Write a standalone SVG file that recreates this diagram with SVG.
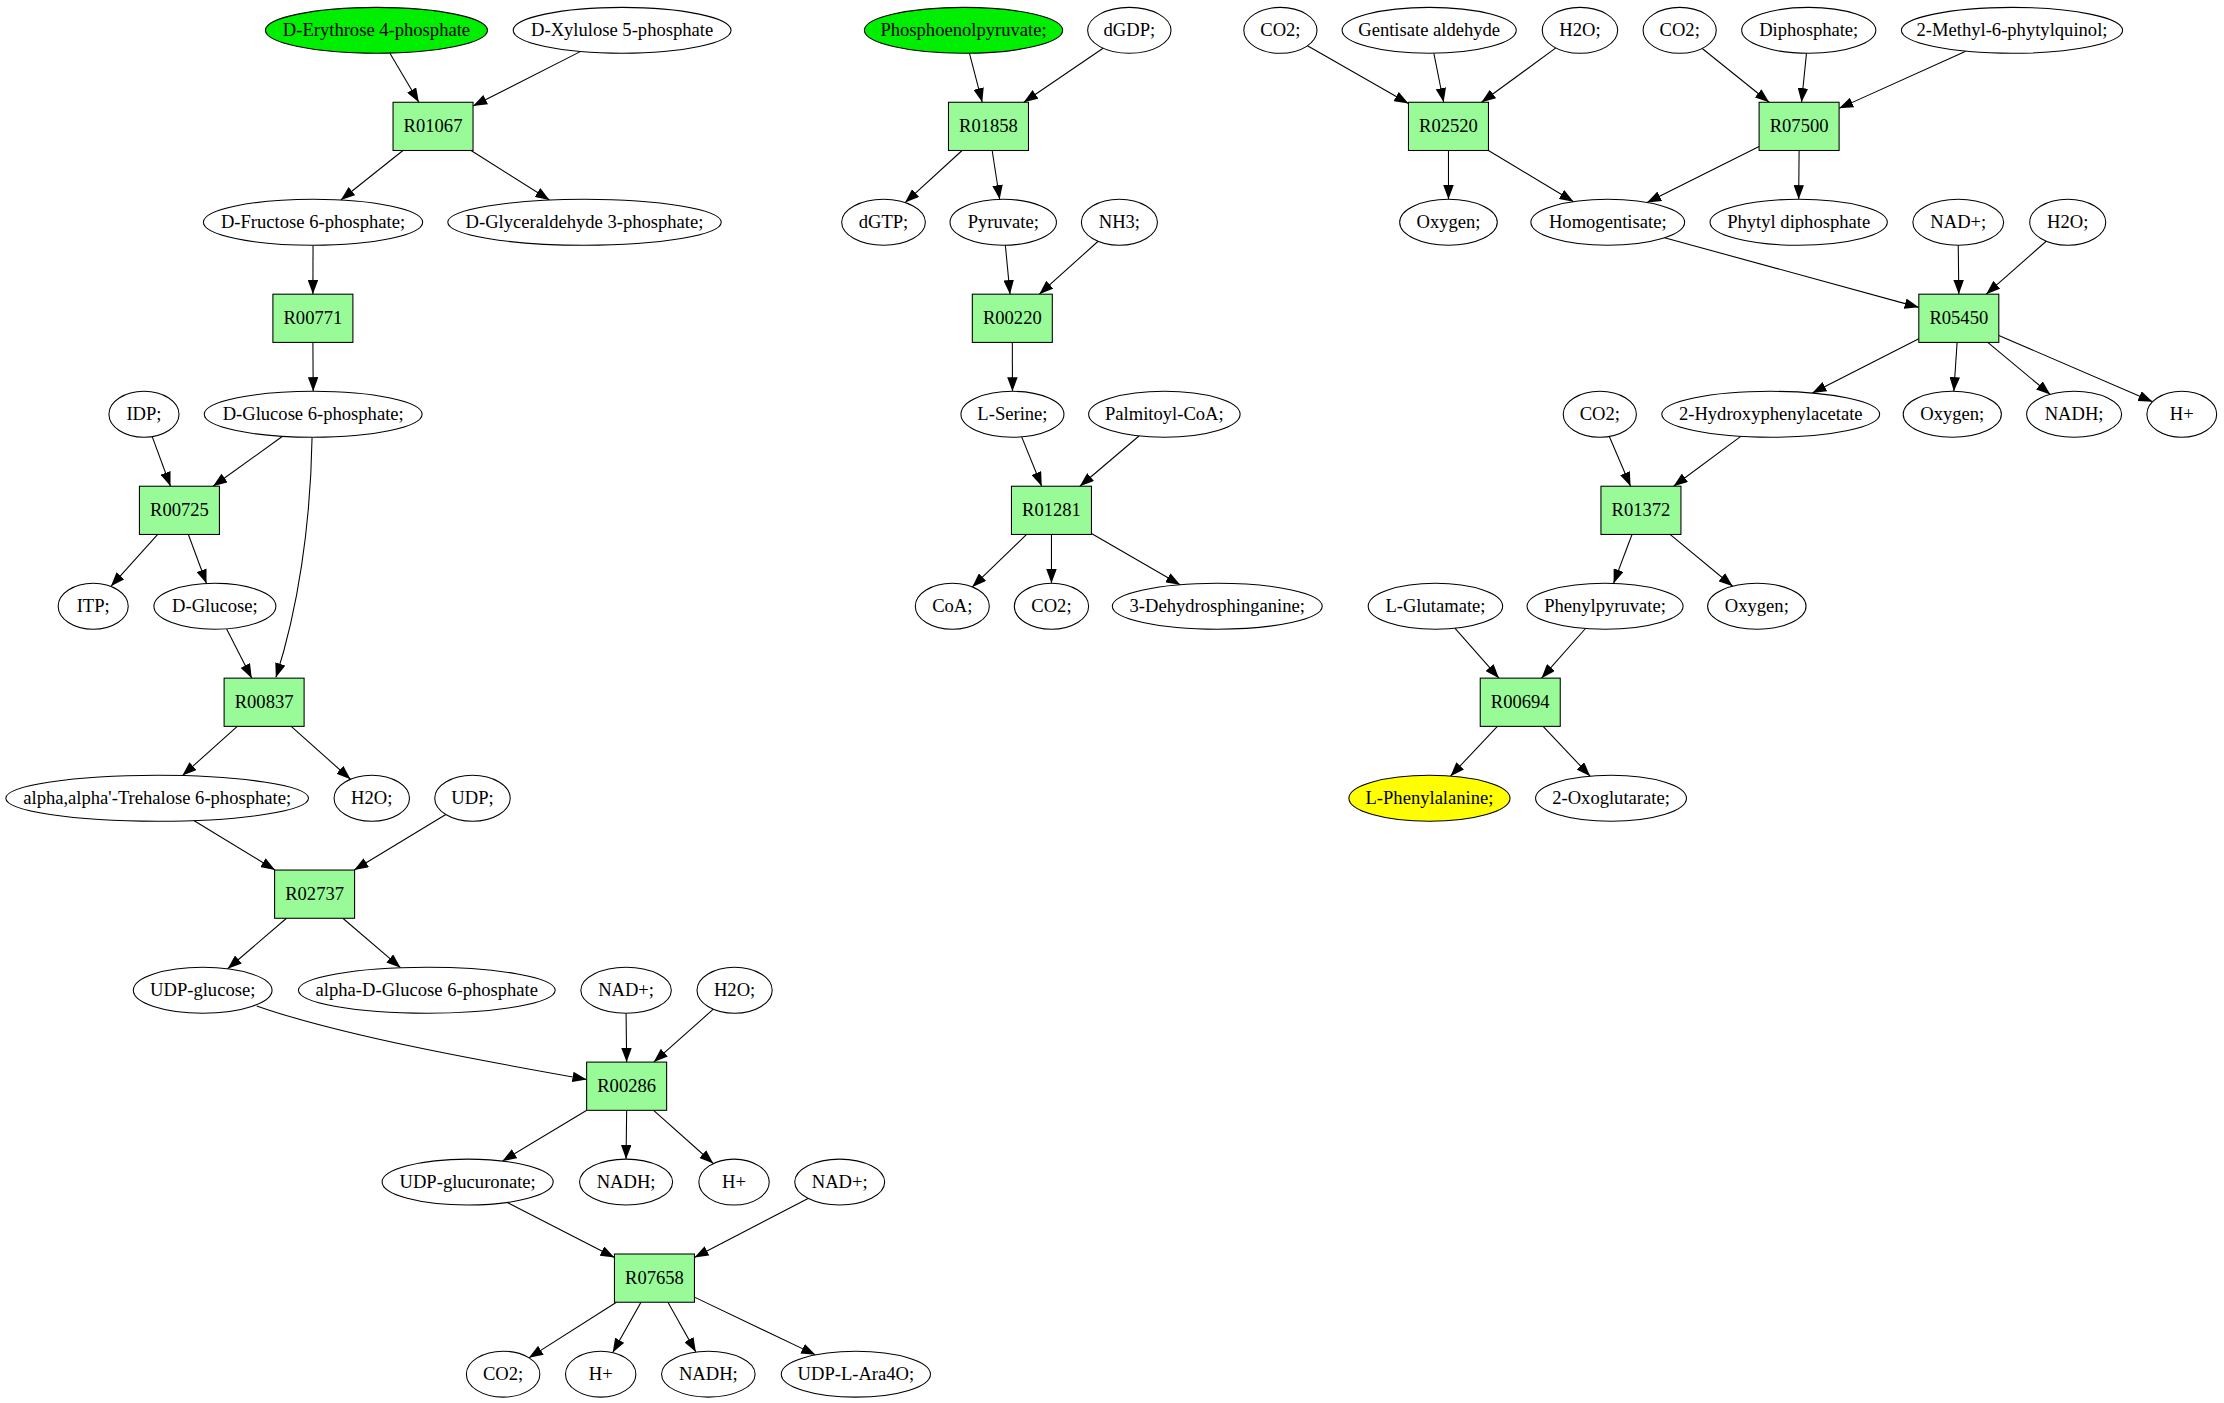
<svg xmlns="http://www.w3.org/2000/svg" width="2224" height="1403" viewBox="0 0 2224 1403">
<style>
.n ellipse{fill:#ffffff;stroke:#000000;stroke-width:0.75}
.n.start ellipse{fill:#00ee00}
.n.goal ellipse{fill:#ffff00}
.r rect{fill:#98fb98;stroke:#000000;stroke-width:0.75}
text{font-family:"Liberation Serif","Times New Roman",serif;font-size:13.1px;text-anchor:middle;fill:#000000}
#edges path{fill:none;stroke:#000000;stroke-width:0.75;marker-end:url(#arr)}
</style>
<defs>
<marker id="arr" markerUnits="userSpaceOnUse" markerWidth="10" markerHeight="7.4" viewBox="0 0 10 7.4" refX="10" refY="3.7" orient="auto">
<path d="M0,0 L10,3.7 L0,7.4 Z" fill="#000000"/>
</marker>
</defs>
<rect x="0" y="0" width="2224" height="1403" fill="#ffffff"/>
<g transform="scale(1.4184)">
<g id="edges">
<path d="M274.9,37.5 L295.3,72.1"/>
<path d="M409.1,36.4 L333.5,74.8"/>
<path d="M284.1,106.1 L240.3,141.0"/>
<path d="M332.1,106.1 L387.4,141.0"/>
<path d="M220.7,172.9 L220.6,207.4"/>
<path d="M220.6,241.4 L220.8,275.9"/>
<path d="M107.3,307.8 L120.2,342.8"/>
<path d="M199.2,307.6 L150.2,342.8"/>
<path d="M220,308.6 C219,370 210,430 194.5,477.6"/>
<path d="M111.2,376.8 L78.2,413.4"/>
<path d="M132.8,376.8 L145.6,411.4"/>
<path d="M159.7,443.3 L177.5,478.1"/>
<path d="M167.3,512.1 L128.6,546.8"/>
<path d="M205.3,512.1 L247.1,549.4"/>
<path d="M136.6,578.5 L193.9,613.4"/>
<path d="M314.3,574.2 L249.7,613.4"/>
<path d="M202.0,647.4 L160.5,683.0"/>
<path d="M241.7,647.4 L282.4,682.2"/>
<path d="M181,709.2 C240,730 340,748 413.6,761"/>
<path d="M441.4,714.3 L441.8,748.8"/>
<path d="M502.9,711.5 L460.9,748.8"/>
<path d="M413.7,782.8 L354.2,818.6"/>
<path d="M441.8,782.8 L441.4,817.2"/>
<path d="M460.8,782.8 L502.9,820.3"/>
<path d="M357.6,847.8 L433.2,886.6"/>
<path d="M569.7,844.9 L489.6,886.5"/>
<path d="M434.6,918.1 L372.9,957.3"/>
<path d="M451.9,918.1 L432.0,953.6"/>
<path d="M470.9,918.1 L490.6,953.2"/>
<path d="M489.6,914.5 L574.9,955.2"/>
<path d="M683.5,37.6 L692.5,72.1"/>
<path d="M777.7,34.0 L721.8,72.1"/>
<path d="M678.3,106.1 L638.1,142.8"/>
<path d="M699.5,106.1 L704.8,140.5"/>
<path d="M708.8,172.9 L712.1,207.4"/>
<path d="M774.2,170.1 L732.7,207.4"/>
<path d="M713.7,241.4 L713.8,275.9"/>
<path d="M720.3,308.0 L734.4,342.8"/>
<path d="M803.0,307.4 L761.3,342.8"/>
<path d="M723.8,376.8 L685.5,413.8"/>
<path d="M741.3,376.8 L741.3,411.2"/>
<path d="M769.5,376.1 L832.0,412.3"/>
<path d="M921.8,32.3 L993.0,73.0"/>
<path d="M1010.9,37.6 L1017.8,72.1"/>
<path d="M1096.9,33.8 L1044.5,72.1"/>
<path d="M1200.1,34.2 L1247.3,72.1"/>
<path d="M1273.6,37.6 L1270.1,72.1"/>
<path d="M1385.9,36.1 L1296.6,76.4"/>
<path d="M1021.2,106.1 L1021.2,140.5"/>
<path d="M1049.4,106.1 L1109.4,142.2"/>
<path d="M1240.2,103.3 L1161.2,142.8"/>
<path d="M1268.4,106.1 L1268.1,140.5"/>
<path d="M1173.5,167.6 L1352.8,216.7"/>
<path d="M1380.6,172.9 L1381,207.4"/>
<path d="M1442.6,170.1 L1400.3,207.4"/>
<path d="M1352.8,238.8 L1277.7,277.1"/>
<path d="M1379.8,241.4 L1377.5,275.9"/>
<path d="M1401.4,241.4 L1445.5,278.1"/>
<path d="M1409.2,236.5 L1517.6,283.2"/>
<path d="M1134.6,307.7 L1149.6,342.8"/>
<path d="M1227.3,307.7 L1179.9,342.8"/>
<path d="M1150.6,376.8 L1137.6,411.3"/>
<path d="M1177.4,376.8 L1221.6,413.3"/>
<path d="M1025.7,442.9 L1056.8,478.1"/>
<path d="M1117.8,443.1 L1086.8,478.1"/>
<path d="M1055.7,512.1 L1022.6,547.2"/>
<path d="M1087.9,512.1 L1121.1,547.2"/>
</g>
<!-- column 1 -->
<g id="n_e4p" class="n start"><ellipse cx="265.4" cy="21.4" rx="78.3" ry="16.2"/><text x="265.4" y="25.7">D-Erythrose 4-phosphate</text></g>
<g id="n_x5p" class="n"><ellipse cx="438.6" cy="21.4" rx="76.8" ry="16.2"/><text x="438.6" y="25.7">D-Xylulose 5-phosphate</text></g>
<g id="R01067" class="r"><rect x="277.1" y="72.1" width="56.4" height="34"/><text x="305.3" y="93.4">R01067</text></g>
<g id="n_f6p" class="n"><ellipse cx="220.7" cy="156.7" rx="77.3" ry="16.2"/><text x="220.7" y="161">D-Fructose 6-phosphate;</text></g>
<g id="n_g3p" class="n"><ellipse cx="412.1" cy="156.7" rx="96.4" ry="16.2"/><text x="412.1" y="161">D-Glyceraldehyde 3-phosphate;</text></g>
<g id="R00771" class="r"><rect x="192.4" y="207.4" width="56.4" height="34"/><text x="220.6" y="228.7">R00771</text></g>
<g id="n_idp" class="n"><ellipse cx="101.5" cy="292.1" rx="24.7" ry="16.2"/><text x="101.5" y="296.4">IDP;</text></g>
<g id="n_g6p" class="n"><ellipse cx="220.8" cy="292.1" rx="76.8" ry="16.2"/><text x="220.8" y="296.4">D-Glucose 6-phosphate;</text></g>
<g id="R00725" class="r"><rect x="98.3" y="342.8" width="56.4" height="34"/><text x="126.5" y="364.1">R00725</text></g>
<g id="n_itp" class="n"><ellipse cx="65.7" cy="427.4" rx="24.7" ry="16.2"/><text x="65.7" y="431.7">ITP;</text></g>
<g id="n_glc" class="n"><ellipse cx="151.5" cy="427.4" rx="43" ry="16.2"/><text x="151.5" y="431.7">D-Glucose;</text></g>
<g id="R00837" class="r"><rect x="158" y="478.1" width="56.4" height="34"/><text x="186.2" y="499.4">R00837</text></g>
<g id="n_t6p" class="n"><ellipse cx="110.8" cy="562.8" rx="106.7" ry="16.2"/><text x="110.8" y="567.1">alpha,alpha'-Trehalose 6-phosphate;</text></g>
<g id="n_h2o_1" class="n"><ellipse cx="262.1" cy="562.8" rx="26.6" ry="16.2"/><text x="262.1" y="567.1">H2O;</text></g>
<g id="n_udp" class="n"><ellipse cx="333.1" cy="562.8" rx="26.6" ry="16.2"/><text x="333.1" y="567.1">UDP;</text></g>
<g id="R02737" class="r"><rect x="193.6" y="613.4" width="56.4" height="34"/><text x="221.8" y="634.7">R02737</text></g>
<g id="n_udpg" class="n"><ellipse cx="142.9" cy="698.1" rx="48.9" ry="16.2"/><text x="142.9" y="702.4">UDP-glucose;</text></g>
<g id="n_ag6p" class="n"><ellipse cx="300.9" cy="698.1" rx="90.5" ry="16.2"/><text x="300.9" y="702.4">alpha-D-Glucose 6-phosphate</text></g>
<g id="n_nad_1" class="n"><ellipse cx="441.4" cy="698.1" rx="31.9" ry="16.2"/><text x="441.4" y="702.4">NAD+;</text></g>
<g id="n_h2o_2" class="n"><ellipse cx="517.9" cy="698.1" rx="26.5" ry="16.2"/><text x="517.9" y="702.4">H2O;</text></g>
<g id="R00286" class="r"><rect x="413.6" y="748.8" width="56.4" height="34"/><text x="441.8" y="770.1">R00286</text></g>
<g id="n_udpga" class="n"><ellipse cx="329.7" cy="833.4" rx="60.3" ry="16.2"/><text x="329.7" y="837.7">UDP-glucuronate;</text></g>
<g id="n_nadh_1" class="n"><ellipse cx="441.4" cy="833.4" rx="32.8" ry="16.2"/><text x="441.4" y="837.7">NADH;</text></g>
<g id="n_h_1" class="n"><ellipse cx="517.5" cy="833.4" rx="24.8" ry="16.2"/><text x="517.5" y="837.7">H+</text></g>
<g id="n_nad_2" class="n"><ellipse cx="592" cy="833.4" rx="31.7" ry="16.2"/><text x="592" y="837.7">NAD+;</text></g>
<g id="R07658" class="r"><rect x="433.2" y="884.1" width="56.4" height="34"/><text x="461.4" y="905.4">R07658</text></g>
<g id="n_co2_1" class="n"><ellipse cx="354.7" cy="968.8" rx="25.9" ry="16.2"/><text x="354.7" y="973.1">CO2;</text></g>
<g id="n_h_2" class="n"><ellipse cx="423.5" cy="968.8" rx="24.8" ry="16.2"/><text x="423.5" y="973.1">H+</text></g>
<g id="n_nadh_2" class="n"><ellipse cx="499.4" cy="968.8" rx="33" ry="16.2"/><text x="499.4" y="973.1">NADH;</text></g>
<g id="n_ara" class="n"><ellipse cx="603.4" cy="968.8" rx="52.6" ry="16.2"/><text x="603.4" y="973.1">UDP-L-Ara4O;</text></g>
<!-- column 2 -->
<g id="n_pep" class="n start"><ellipse cx="679.3" cy="21.4" rx="69.9" ry="16.2"/><text x="679.3" y="25.7">Phosphoenolpyruvate;</text></g>
<g id="n_dgdp" class="n"><ellipse cx="796.2" cy="21.4" rx="29.4" ry="16.2"/><text x="796.2" y="25.7">dGDP;</text></g>
<g id="R01858" class="r"><rect x="668.7" y="72.1" width="56.4" height="34"/><text x="696.9" y="93.4">R01858</text></g>
<g id="n_dgtp" class="n"><ellipse cx="622.9" cy="156.7" rx="29.5" ry="16.2"/><text x="622.9" y="161">dGTP;</text></g>
<g id="n_pyr" class="n"><ellipse cx="707.3" cy="156.7" rx="37.5" ry="16.2"/><text x="707.3" y="161">Pyruvate;</text></g>
<g id="n_nh3" class="n"><ellipse cx="789.2" cy="156.7" rx="26.8" ry="16.2"/><text x="789.2" y="161">NH3;</text></g>
<g id="R00220" class="r"><rect x="685.5" y="207.4" width="56.4" height="34"/><text x="713.7" y="228.7">R00220</text></g>
<g id="n_ser" class="n"><ellipse cx="713.8" cy="292.1" rx="36.3" ry="16.2"/><text x="713.8" y="296.4">L-Serine;</text></g>
<g id="n_pcoa" class="n"><ellipse cx="820.9" cy="292.1" rx="53.4" ry="16.2"/><text x="820.9" y="296.4">Palmitoyl-CoA;</text></g>
<g id="R01281" class="r"><rect x="713.1" y="342.8" width="56.4" height="34"/><text x="741.3" y="364.1">R01281</text></g>
<g id="n_coa" class="n"><ellipse cx="671.4" cy="427.4" rx="26.1" ry="16.2"/><text x="671.4" y="431.7">CoA;</text></g>
<g id="n_co2_2" class="n"><ellipse cx="741.3" cy="427.4" rx="26.2" ry="16.2"/><text x="741.3" y="431.7">CO2;</text></g>
<g id="n_dhs" class="n"><ellipse cx="858.2" cy="427.4" rx="74" ry="16.2"/><text x="858.2" y="431.7">3-Dehydrosphinganine;</text></g>
<!-- column 3 -->
<g id="n_co2_3" class="n"><ellipse cx="902.7" cy="21.4" rx="25.8" ry="16.2"/><text x="902.7" y="25.7">CO2;</text></g>
<g id="n_gald" class="n"><ellipse cx="1007.6" cy="21.4" rx="61.4" ry="16.2"/><text x="1007.6" y="25.7">Gentisate aldehyde</text></g>
<g id="n_h2o_3" class="n"><ellipse cx="1113.9" cy="21.4" rx="26.6" ry="16.2"/><text x="1113.9" y="25.7">H2O;</text></g>
<g id="n_co2_4" class="n"><ellipse cx="1184.2" cy="21.4" rx="25.8" ry="16.2"/><text x="1184.2" y="25.7">CO2;</text></g>
<g id="n_pp" class="n"><ellipse cx="1275.2" cy="21.4" rx="47.3" ry="16.2"/><text x="1275.2" y="25.7">Diphosphate;</text></g>
<g id="n_mpq" class="n"><ellipse cx="1418.5" cy="21.4" rx="78" ry="16.2"/><text x="1418.5" y="25.7">2-Methyl-6-phytylquinol;</text></g>
<g id="R02520" class="r"><rect x="993" y="72.1" width="56.4" height="34"/><text x="1021.2" y="93.4">R02520</text></g>
<g id="R07500" class="r"><rect x="1240.2" y="72.1" width="56.4" height="34"/><text x="1268.4" y="93.4">R07500</text></g>
<g id="n_oxy_1" class="n"><ellipse cx="1021.2" cy="156.7" rx="34.4" ry="16.2"/><text x="1021.2" y="161">Oxygen;</text></g>
<g id="n_hga" class="n"><ellipse cx="1133.5" cy="156.7" rx="54.2" ry="16.2"/><text x="1133.5" y="161">Homogentisate;</text></g>
<g id="n_phpp" class="n"><ellipse cx="1268.1" cy="156.7" rx="62.5" ry="16.2"/><text x="1268.1" y="161">Phytyl diphosphate</text></g>
<g id="n_nad_3" class="n"><ellipse cx="1380.6" cy="156.7" rx="32" ry="16.2"/><text x="1380.6" y="161">NAD+;</text></g>
<g id="n_h2o_4" class="n"><ellipse cx="1457.8" cy="156.7" rx="26.8" ry="16.2"/><text x="1457.8" y="161">H2O;</text></g>
<g id="R05450" class="r"><rect x="1352.8" y="207.4" width="56.4" height="34"/><text x="1381" y="228.7">R05450</text></g>
<g id="n_co2_5" class="n"><ellipse cx="1127.9" cy="292.1" rx="25.8" ry="16.2"/><text x="1127.9" y="296.4">CO2;</text></g>
<g id="n_hpa" class="n"><ellipse cx="1248.4" cy="292.1" rx="76.8" ry="16.2"/><text x="1248.4" y="296.4">2-Hydroxyphenylacetate</text></g>
<g id="n_oxy_2" class="n"><ellipse cx="1376.4" cy="292.1" rx="34.6" ry="16.2"/><text x="1376.4" y="296.4">Oxygen;</text></g>
<g id="n_nadh_3" class="n"><ellipse cx="1462.3" cy="292.1" rx="33.5" ry="16.2"/><text x="1462.3" y="296.4">NADH;</text></g>
<g id="n_h_3" class="n"><ellipse cx="1538.2" cy="292.1" rx="24.6" ry="16.2"/><text x="1538.2" y="296.4">H+</text></g>
<g id="R01372" class="r"><rect x="1128.7" y="342.8" width="56.4" height="34"/><text x="1156.9" y="364.1">R01372</text></g>
<g id="n_glu" class="n"><ellipse cx="1012" cy="427.4" rx="47.4" ry="16.2"/><text x="1012" y="431.7">L-Glutamate;</text></g>
<g id="n_ppy" class="n"><ellipse cx="1131.6" cy="427.4" rx="55" ry="16.2"/><text x="1131.6" y="431.7">Phenylpyruvate;</text></g>
<g id="n_oxy_3" class="n"><ellipse cx="1238.6" cy="427.4" rx="34.7" ry="16.2"/><text x="1238.6" y="431.7">Oxygen;</text></g>
<g id="R00694" class="r"><rect x="1043.6" y="478.1" width="56.4" height="34"/><text x="1071.8" y="499.4">R00694</text></g>
<g id="n_phe" class="n goal"><ellipse cx="1007.8" cy="562.8" rx="56.8" ry="16.2"/><text x="1007.8" y="567.1">L-Phenylalanine;</text></g>
<g id="n_oxg" class="n"><ellipse cx="1135.8" cy="562.8" rx="53.2" ry="16.2"/><text x="1135.8" y="567.1">2-Oxoglutarate;</text></g>
</g>
</svg>
